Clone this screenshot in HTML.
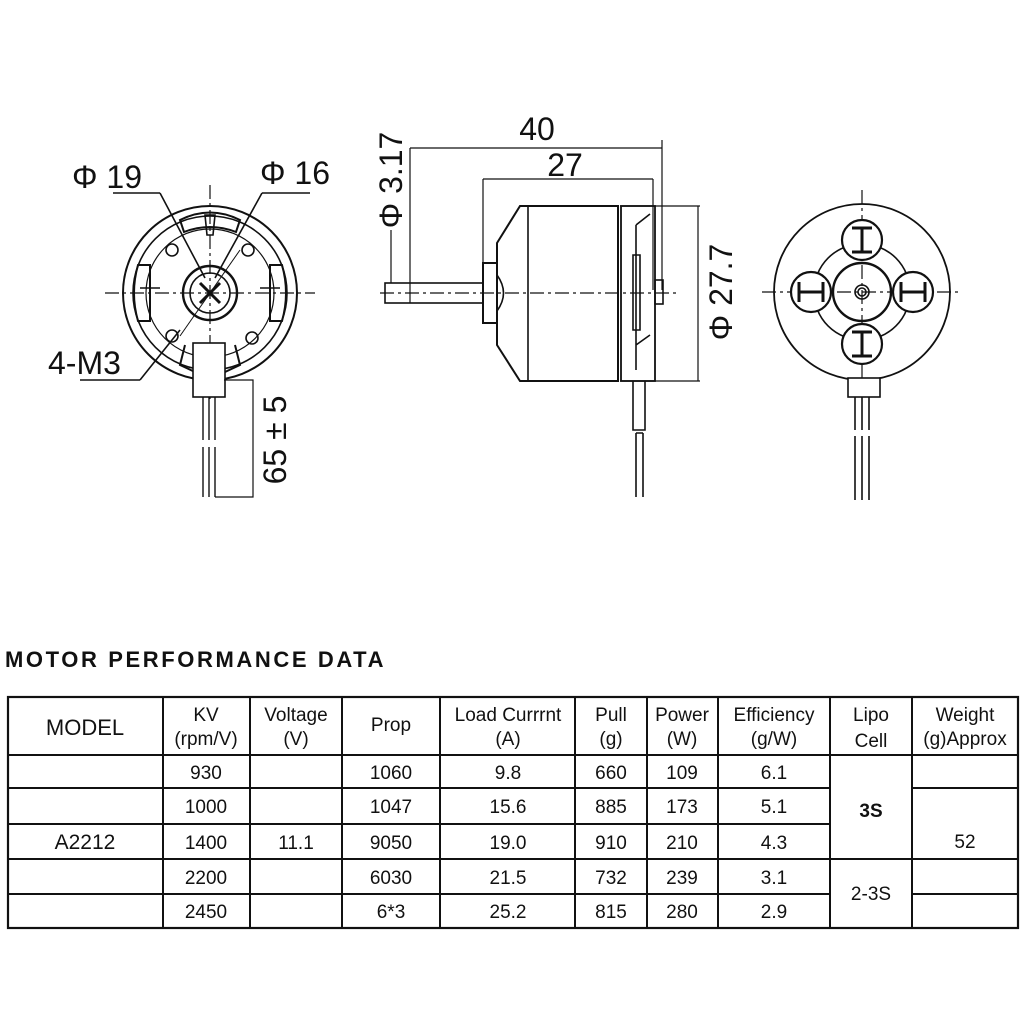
<!DOCTYPE html>
<html><head><meta charset="utf-8"><style>
html,body{margin:0;padding:0;background:#fff;}
body{width:1024px;height:1024px;position:relative;overflow:hidden;font-family:"Liberation Sans",sans-serif;}
svg{position:absolute;left:0;top:0;}
</style></head><body>
<svg width="1024" height="1024" viewBox="0 0 1024 1024" xmlns="http://www.w3.org/2000/svg" font-family="Liberation Sans, sans-serif">
<g stroke="#111" fill="none" stroke-width="1.6">
<!-- LEFT VIEW -->
<line x1="210" y1="185" x2="210" y2="400" stroke-dasharray="14 4 3 4" stroke-width="1.2"/>
<line x1="105" y1="293" x2="315" y2="293" stroke-dasharray="14 4 3 4" stroke-width="1.2"/>
<circle cx="210" cy="293" r="87" stroke-width="2"/>
<circle cx="210" cy="293" r="77"/>
<circle cx="210" cy="293" r="64" stroke-width="1.2"/>
<circle cx="210" cy="293" r="27" stroke-width="2.4"/>
<circle cx="210" cy="293" r="20" stroke-width="1.6"/>
<path d="M200 283 L220 303 M220 283 L200 303" stroke-width="3"/>
<path d="M180 220 Q210 205 240 220 L236 232 Q210 222 184 232Z M138 265 L150 265 L150 321 L138 321 Q130 293 138 265Z M282 265 L270 265 L270 321 L282 321 Q290 293 282 265Z" stroke-width="2"/>
<path d="M205 215 L215 215 L213 235 L207 235Z M140 288 L160 288 M260 288 L280 288" stroke-width="1.6"/>
<circle cx="172" cy="250" r="6"/><circle cx="248" cy="250" r="6"/>
<circle cx="172" cy="336" r="6"/><circle cx="252" cy="338" r="6"/>
<path d="M185 345 L180 365 L195 372 M235 345 L240 365 L225 372" stroke-width="2"/>
<line x1="113" y1="193" x2="160" y2="193"/><line x1="160" y1="193" x2="205" y2="278"/>
<line x1="262" y1="193" x2="310" y2="193"/><line x1="262" y1="193" x2="215" y2="278"/>
<line x1="80" y1="380" x2="140" y2="380"/><line x1="140" y1="380" x2="180" y2="330"/>
<line x1="180" y1="336" x2="240" y2="250" stroke-width="1"/>
<rect x="193" y="343" width="32" height="54" fill="#fff"/>
<path d="M203 397 V440 M209 397 V440 M215 397 V440 M203 447 V497 M209 447 V497 M215 447 V497" stroke-width="1.4"/>
<path d="M224 380 H253 V497 H215" stroke-width="1.2"/>
<!-- SIDE VIEW -->
<line x1="380" y1="293" x2="680" y2="293" stroke-dasharray="14 4 3 4" stroke-width="1.2"/>
<rect x="385" y="283" width="98" height="20"/>
<line x1="410" y1="148" x2="410" y2="303" stroke-width="1.2"/>
<line x1="391" y1="230" x2="391" y2="283" stroke-width="1.2"/>
<line x1="410" y1="148" x2="662" y2="148" stroke-width="1.2"/>
<line x1="662" y1="140" x2="662" y2="290" stroke-width="1.2"/>
<line x1="483" y1="179" x2="653" y2="179" stroke-width="1.2"/>
<line x1="483" y1="179" x2="483" y2="263" stroke-width="1.2"/>
<line x1="653" y1="179" x2="653" y2="290" stroke-width="1.2"/>
<rect x="483" y="263" width="14" height="60" stroke-width="2"/>
<path d="M497 275 Q510 293 497 311"/>
<path d="M520 206 L618 206 L618 381 L520 381 L497 345 L497 243 Z" stroke-width="2"/>
<line x1="528" y1="206" x2="528" y2="381"/>
<rect x="621" y="206" width="34" height="175" stroke-width="1.8"/>
<path d="M636 225 L650 214 M636 345 L650 335 M633 255 H640 V330 H633Z M636 370 L636 225"/>
<rect x="655" y="280" width="8" height="24"/>
<path d="M633 381 V430 H645 V381 M636 433 V497 M643 433 V497 M636 433 H643"/>
<path d="M620 206 H700 M620 381 H700 M698 206 V381" stroke-width="1.2"/>
<!-- RIGHT VIEW -->
<line x1="862" y1="190" x2="862" y2="395" stroke-dasharray="14 4 3 4" stroke-width="1.2"/>
<line x1="762" y1="292" x2="962" y2="292" stroke-dasharray="14 4 3 4" stroke-width="1.2"/>
<circle cx="862" cy="292" r="88" stroke-width="1.8"/>
<circle cx="862" cy="292" r="48" stroke-width="1.6"/>
<circle cx="862" cy="292" r="29" stroke-width="2.4"/>
<circle cx="862" cy="292" r="7"/><circle cx="862" cy="292" r="4"/>
<g stroke-width="2.2" fill="#fff">
<circle cx="862" cy="240" r="20"/><circle cx="862" cy="344" r="20"/>
<circle cx="811" cy="292" r="20"/><circle cx="913" cy="292" r="20"/>
</g>
<path d="M852 228 H872 M862 228 V252 M852 252 H872 M852 332 H872 M862 332 V356 M852 356 H872 M799 282 V302 M799 292 H823 M823 282 V302 M901 282 V302 M901 292 H925 M925 282 V302" stroke-width="3"/>
<rect x="848" y="378" width="32" height="19" fill="#fff"/>
<path d="M855 397 V430 M862 397 V430 M869 397 V430 M855 436 V500 M862 436 V500 M869 436 V500" stroke-width="1.6"/>
<!-- TABLE -->
<rect x="8" y="697" width="1010" height="231" stroke-width="2.2"/>
<g stroke-width="2">
<line x1="163" y1="697" x2="163" y2="928"/><line x1="250" y1="697" x2="250" y2="928"/>
<line x1="342" y1="697" x2="342" y2="928"/><line x1="440" y1="697" x2="440" y2="928"/>
<line x1="575" y1="697" x2="575" y2="928"/><line x1="647" y1="697" x2="647" y2="928"/>
<line x1="718" y1="697" x2="718" y2="928"/><line x1="830" y1="697" x2="830" y2="928"/>
<line x1="912" y1="697" x2="912" y2="928"/>
<line x1="8" y1="755" x2="1018" y2="755"/>
<line x1="8" y1="788" x2="830" y2="788"/><line x1="912" y1="788" x2="1018" y2="788"/>
<line x1="8" y1="824" x2="830" y2="824"/>
<line x1="8" y1="859" x2="1018" y2="859"/>
<line x1="8" y1="894" x2="830" y2="894"/><line x1="912" y1="894" x2="1018" y2="894"/>
</g>
</g>
<g fill="#111" font-size="32">
<text x="72" y="188">Φ 19</text>
<text x="260" y="184">Φ 16</text>
<text x="48" y="374">4-M3</text>
<text transform="translate(286 440) rotate(-90)" text-anchor="middle">65 ± 5</text>
<text x="537" y="140" text-anchor="middle">40</text>
<text x="565" y="176" text-anchor="middle">27</text>
<text transform="translate(402 180) rotate(-90)" text-anchor="middle">Φ 3.17</text>
<text transform="translate(732 292) rotate(-90)" text-anchor="middle">Φ 27.7</text>
</g>
<text x="5" y="667" font-size="22" font-weight="bold" letter-spacing="2.6" fill="#111">MOTOR PERFORMANCE DATA</text>
<g fill="#111" font-size="19" text-anchor="middle">
<text x="85" y="735" font-size="22">MODEL</text>
<text x="206" y="721">KV</text><text x="206" y="745">(rpm/V)</text>
<text x="296" y="721">Voltage</text><text x="296" y="745">(V)</text>
<text x="391" y="731">Prop</text>
<text x="508" y="721">Load Currrnt</text><text x="508" y="745">(A)</text>
<text x="611" y="721">Pull</text><text x="611" y="745">(g)</text>
<text x="682" y="721">Power</text><text x="682" y="745">(W)</text>
<text x="774" y="721">Efficiency</text><text x="774" y="745">(g/W)</text>
<text x="871" y="721">Lipo</text><text x="871" y="747">Cell</text>
<text x="965" y="721">Weight</text><text x="965" y="745">(g)Approx</text>
<g font-size="19">
<text x="206" y="779">930</text><text x="391" y="779">1060</text><text x="508" y="779">9.8</text><text x="611" y="779">660</text><text x="682" y="779">109</text><text x="774" y="779">6.1</text>
<text x="206" y="813">1000</text><text x="391" y="813">1047</text><text x="508" y="813">15.6</text><text x="611" y="813">885</text><text x="682" y="813">173</text><text x="774" y="813">5.1</text>
<text x="85" y="849" font-size="21">A2212</text><text x="206" y="849">1400</text><text x="296" y="849">11.1</text><text x="391" y="849">9050</text><text x="508" y="849">19.0</text><text x="611" y="849">910</text><text x="682" y="849">210</text><text x="774" y="849">4.3</text>
<text x="206" y="884">2200</text><text x="391" y="884">6030</text><text x="508" y="884">21.5</text><text x="611" y="884">732</text><text x="682" y="884">239</text><text x="774" y="884">3.1</text>
<text x="206" y="918">2450</text><text x="391" y="918">6*3</text><text x="508" y="918">25.2</text><text x="611" y="918">815</text><text x="682" y="918">280</text><text x="774" y="918">2.9</text>
<text x="871" y="817" font-weight="bold">3S</text>
<text x="871" y="900">2-3S</text>
<text x="965" y="848">52</text>
</g>
</g>
</svg>
</body></html>
